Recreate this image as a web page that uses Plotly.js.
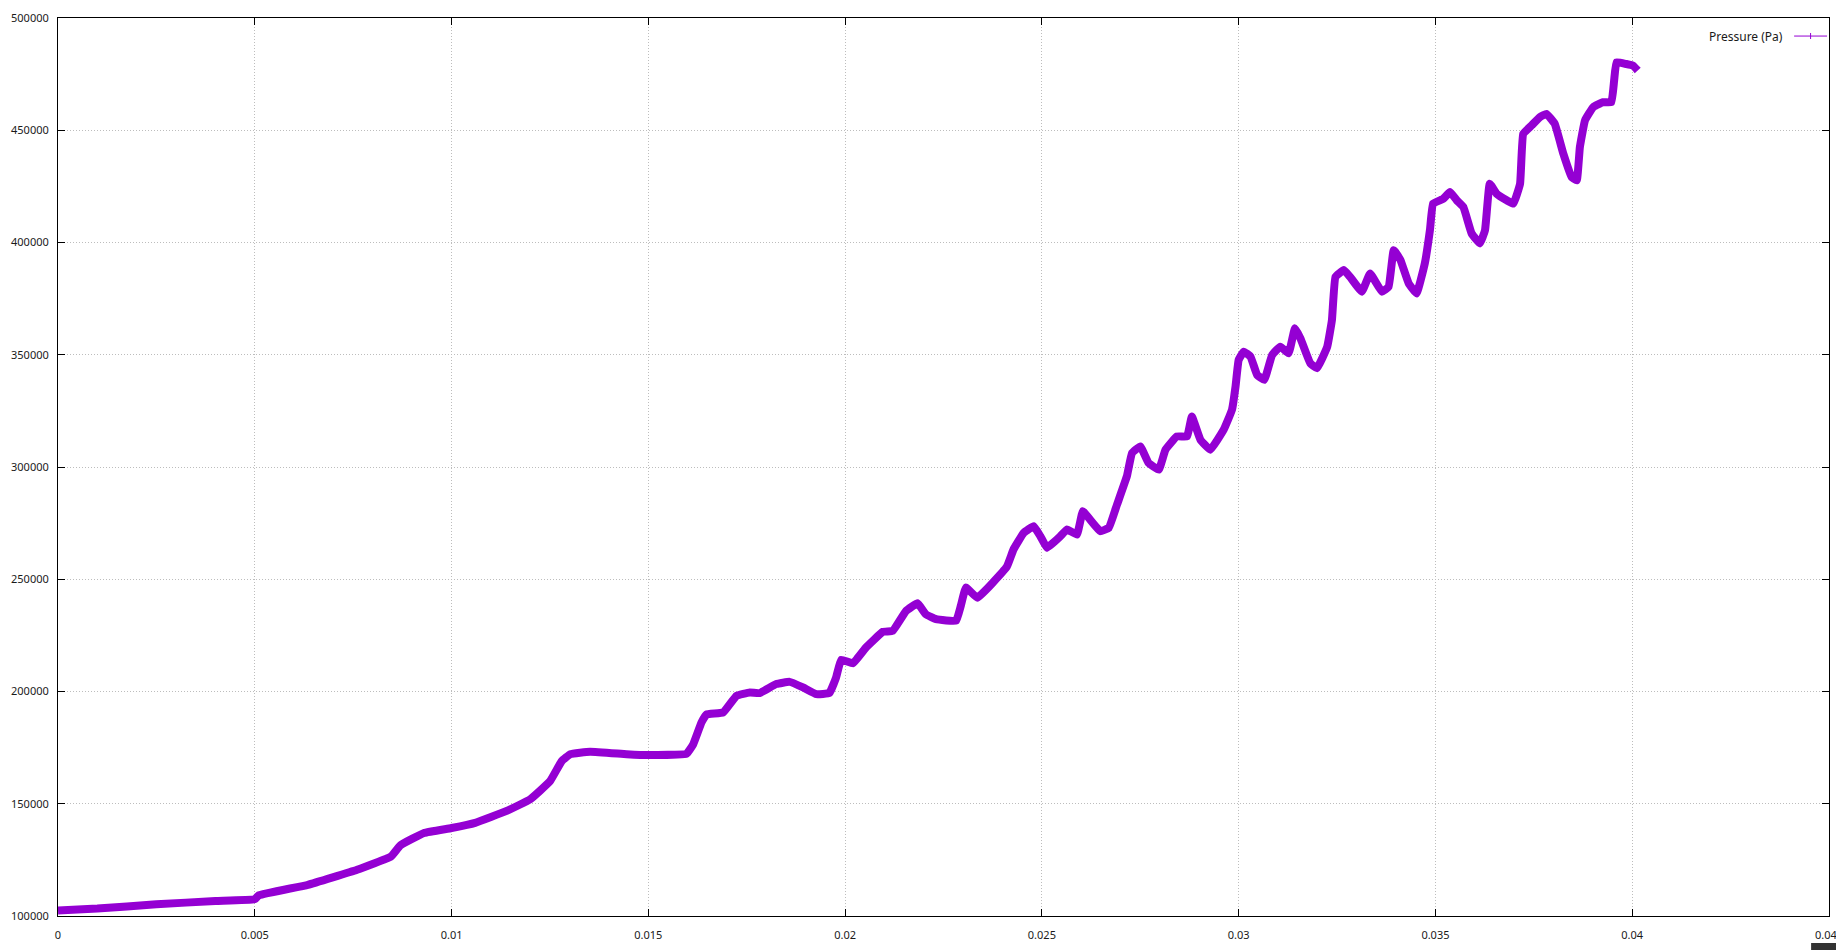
<!DOCTYPE html>
<html>
<head>
<meta charset="utf-8">
<script src="https://cdn.plot.ly/plotly-3.0.1.min.js"></script>
<style>
  html, body { margin: 0; padding: 0; background: #fff; }
  #chart { width: 1836px; height: 950px; }
</style>
</head>
<body>
<div id="chart"></div>
<script>
// Series name
const seriesName = 'Pressure (Pa)';

// Time (s) values
const time = [
  0.0000, 0.0010, 0.0025, 0.0040, 0.0050, 0.0051, 0.00635, 0.0076, 0.00846, 0.0087,
  0.0093, 0.0100, 0.0106, 0.0114, 0.0120, 0.0125, 0.0128, 0.01302, 0.01352, 0.01445,
  0.0150, 0.01597, 0.01614, 0.01635, 0.01648, 0.0169, 0.01724, 0.01758, 0.01783, 0.01825,
  0.01859, 0.01893, 0.01927, 0.0196, 0.01977, 0.0199, 0.0202, 0.02053, 0.02096, 0.02121,
  0.02155, 0.02184, 0.02205, 0.02231, 0.02282, 0.02294, 0.02307, 0.02336, 0.02411, 0.02428,
  0.02454, 0.02479, 0.02496, 0.02513, 0.02547, 0.02564, 0.02589, 0.02604, 0.02619, 0.02648,
  0.0267, 0.02691, 0.02716, 0.02729, 0.0275, 0.02771, 0.02797, 0.02814, 0.02843, 0.02869,
  0.02881, 0.02903, 0.02928, 0.02962, 0.02983, 0.02992, 0.0300, 0.03013, 0.0303, 0.03047,
  0.03065, 0.03085, 0.03106, 0.03127, 0.03143, 0.03157, 0.03182, 0.03199, 0.03225, 0.03237,
  0.03246, 0.03267, 0.03283, 0.03313, 0.03334, 0.03364, 0.03381, 0.03394, 0.03411, 0.03432,
  0.03452, 0.03473, 0.03486, 0.03494, 0.0352, 0.03537, 0.03554, 0.03571, 0.03592, 0.03613,
  0.03626, 0.03638, 0.03655, 0.03681, 0.03698, 0.03715, 0.03723, 0.03744, 0.03765, 0.03782,
  0.03803, 0.03825, 0.03846, 0.03859, 0.03867, 0.0388, 0.03901, 0.03926, 0.03947, 0.03954,
  0.0396, 0.03985, 0.04002, 0.04014
];

// Pressure (Pa) values
const pressure = [
  102500, 103300, 105200, 106700, 107500, 109200, 113900, 120600, 126500, 131500,
  137000, 139200, 141500, 146800, 152000, 160000, 169000, 172100, 173200, 172100,
  171700, 172300, 176500, 186200, 189800, 190650, 198100, 199600, 199300, 203300,
  204300, 201800, 198800, 199300, 206200, 214100, 212600, 219600, 226600, 227000,
  235900, 239300, 234400, 232200, 231500, 238200, 246300, 241800, 255600, 263300,
  270700, 273600, 269200, 264000, 269200, 272200, 269900, 280300, 277300, 271400,
  272900, 283300, 295900, 306200, 309200, 301800, 298800, 307700, 313600, 313600,
  322500, 312100, 307700, 316600, 325500, 335800, 347700, 351400, 349200, 341000,
  338800, 349900, 353600, 350700, 361800, 357300, 346200, 344000, 353600, 365500,
  384700, 387700, 384700, 378100, 386200, 378100, 380300, 396600, 392200, 381800,
  377300, 390700, 405500, 417300, 419500, 422500, 418800, 415800, 404000, 399600,
  405500, 426200, 421800, 418800, 417300, 426200, 448400, 452100, 455800, 457300,
  452900, 439500, 429200, 427700, 442500, 454400, 460300, 462500, 462500, 472100,
  480300, 479500, 478800, 476600
];

// Axis tick values and labels
const xTickVals = [0, 0.005, 0.01, 0.015, 0.02, 0.025, 0.03, 0.035, 0.04, 0.045];
const xTickText = ['0', '0.005', '0.01', '0.015', '0.02', '0.025', '0.03', '0.035', '0.04', '0.045'];
const yTickVals = [100000, 150000, 200000, 250000, 300000, 350000, 400000, 450000, 500000];
const yTickText = ['100000', '150000', '200000', '250000', '300000', '350000', '400000', '450000', '500000'];

const lineColor = '#9400D3';
const fontFamily = '"Noto Sans", "Open Sans", sans-serif';

const trace = {
  x: time,
  y: pressure,
  type: 'scatter',
  mode: 'lines',
  name: seriesName,
  showlegend: false,
  line: { color: lineColor, width: 8, shape: 'spline', smoothing: 0.3 },
  hoverinfo: 'x+y'
};

const axisCommon = {
  showline: true,
  linecolor: '#000',
  linewidth: 1,
  mirror: 'allticks',
  ticks: 'inside',
  ticklen: 7,
  tickwidth: 1,
  tickcolor: '#000',
  showgrid: true,
  gridcolor: '#bdbdbd',
  griddash: '1px,2px',
  gridwidth: 1,
  zeroline: false,
  tickfont: { family: fontFamily, size: 11, color: '#1a1a1a' },
  tickmode: 'array',
  ticklabeloverflow: 'allow'
};

const layout = {
  width: 1836,
  height: 950,
  margin: { l: 58, r: 7, t: 18, b: 34, pad: 0 },
  paper_bgcolor: '#ffffff',
  plot_bgcolor: '#ffffff',
  showlegend: false,
  xaxis: Object.assign({}, axisCommon, {
    range: [0, 0.045],
    tickvals: xTickVals,
    ticktext: xTickText,
    ticklabelstandoff: 9
  }),
  yaxis: Object.assign({}, axisCommon, {
    range: [100000, 500000],
    tickvals: yTickVals,
    ticktext: yTickText,
    ticklabelstandoff: 6
  }),
  annotations: [{
    xref: 'paper', yref: 'paper',
    x: 0.9752, y: 0.979,
    xanchor: 'right', yanchor: 'middle',
    text: seriesName,
    showarrow: false,
    font: { family: fontFamily, size: 12, color: '#1a1a1a' }
  }],
  shapes: [
    // legend key line
    { type: 'line', xref: 'paper', yref: 'paper', x0: 0.9803, x1: 0.9989, y0: 0.9799, y1: 0.9799,
      line: { color: lineColor, width: 1 } },
    // legend key "+" marker
    { type: 'line', xref: 'paper', yref: 'paper', x0: 0.9896, x1: 0.9896, y0: 0.9766, y1: 0.9833,
      line: { color: lineColor, width: 1 } },
    // dark corner block at bottom right
    { type: 'rect', xref: 'paper', yref: 'paper', x0: 0.9899, x1: 1.01, y0: -0.0301, y1: -0.04,
      fillcolor: '#333333', line: { width: 0 } }
  ]
};

Plotly.newPlot('chart', [trace], layout, { staticPlot: true, displayModeBar: false });
</script>
</body>
</html>
